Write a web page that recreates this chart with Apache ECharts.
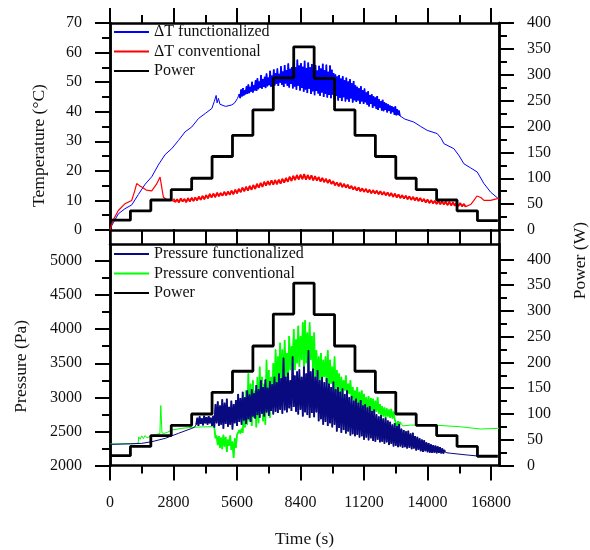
<!DOCTYPE html>
<html><head><meta charset="utf-8">
<script src="https://cdn.jsdelivr.net/npm/echarts@6/dist/echarts.min.js"></script>
<style>html,body{margin:0;padding:0;background:#fff}#c{width:590px;height:550px}</style>
</head><body><div id="c"></div>
<script>
// ---------- axis ticks ----------
const X_MIN = 0, X_MAX = 17150;
const xMajor = [0, 2800, 5600, 8400, 11200, 14000, 16800];
const xMinor = [1400, 4200, 7000, 9800, 12600, 15400];
const tempRange = [0, 70];
const tempMajor = [0, 10, 20, 30, 40, 50, 60, 70];
const tempMinor = [5, 15, 25, 35, 45, 55, 65];
const powerTopRange = [0, 400];
const powerBotRange = [0, 430];
const powerMajor = [0, 50, 100, 150, 200, 250, 300, 350, 400];
const powerMinor = [25, 75, 125, 175, 225, 275, 325, 375];
const pressRange = [2000, 5250];
const pressMajor = [2000, 2500, 3000, 3500, 4000, 4500, 5000];
const pressMinor = [2250, 2750, 3250, 3750, 4250, 4750];

// ---------- power (W): level held from each time to the next ----------
const powerTimes  = [0, 900, 1800, 2700, 3600, 4500, 5400, 6300, 7200, 8100, 9000, 9900, 10800, 11700, 12600, 13500, 14400, 15300, 16200, 17100];
const powerLevels = [19, 37, 58, 78, 100, 142, 183, 232, 294, 354, 293, 232, 183, 142, 100, 78, 58, 37, 18, 18];

// ---------- ΔT functionalized (°C) ----------
const dtFuncA = [[0,0.5],[150,2.5],[370,5.5],[660,7.2],[960,8.5],[1250,12],[1550,15.5],[1840,18],[2130,22],[2430,25.5],[2720,27.5],[3020,30.3],[3310,33.2],[3600,34.8],[3900,37.7],[4200,39.4],[4490,41.1],[4600,43.5],[4680,45.5],[4720,43],[4780,44.5],[4850,42.5],[4930,42.2],[5100,41.8],[5370,42.3],[5500,43],[5620,44.5]];
const dtFuncNoiseStart = 5700, dtFuncNoiseStep = 40;
const dtFuncNoise = [
46.0,44.6,47.5,45.2,48.0,45.5,47.2,45.9,48.6,46.1,
49.2,46.3,48.4,46.8,50.1,46.5,49.0,47.2,50.6,47.0,
51.3,47.6,50.2,48.1,52.4,47.8,51.0,48.4,51.8,48.0,
52.9,48.6,51.5,49.0,53.8,48.5,52.2,49.3,54.3,48.9,
53.0,49.5,54.6,48.7,52.8,49.8,55.4,49.1,53.6,48.4,
55.8,49.6,54.0,48.8,56.3,48.2,54.5,49.4,55.1,47.9,
56.9,48.5,55.0,47.4,57.6,48.8,55.6,47.2,56.4,48.0,
55.2,46.8,57.2,47.5,54.8,46.3,56.6,47.8,55.0,46.0,
56.1,46.9,54.2,45.6,55.8,47.0,53.9,46.2,55.5,45.4,
54.6,46.5,56.2,45.0,54.0,46.1,55.9,44.8,53.5,45.7,
55.6,44.6,54.2,45.8,53.0,44.2,52.6,45.3,51.9,43.8,
52.4,44.7,51.2,43.6,52.0,44.9,50.6,43.5,51.5,44.2,
50.2,43.4,51.0,44.5,49.6,43.1,50.4,43.9,48.9,43.3,
48.4,43.8,47.9,42.7,48.6,43.5,47.2,42.6,47.8,43.2,
46.5,42.4,46.9,41.8,45.6,42.6,45.9,41.3,45.2,41.9,
44.8,41.0,45.3,40.6,44.2,41.4,43.6,40.4,44.0,40.2,
43.2,40.6,42.8,39.8,42.5,40.3,42.1,39.4,41.9,39.9,
41.5,39.0,41.8,38.8,40.9,38.9,40.4,38.6];
const dtFuncB = [[12800,38],[13000,37.5],[13395,36.5],[13700,35],[13984,33.7],[14426,32.6],[14600,31],[14720,29.2],[15161,27.5],[15400,25],[15602,22.4],[15900,21],[16191,19.6],[16486,15.7],[16781,12.8],[17076,10.9],[17150,10.5]];

// ---------- ΔT conventional (°C) ----------
const dtConvA = [[0,0],[150,3.5],[368,6.6],[662,8.9],[957,10],[1080,13],[1178,15.7],[1300,15],[1399,14.5],[1600,13.5],[1840,13.2],[2050,15.5],[2208,17.9],[2290,14],[2355,11.1],[2500,10.3],[2723,10]];
const dtConvNoiseStart = 2800, dtConvNoiseStep = 80;
const dtConvNoise = [
10.6,9.5,10.4,9.3,10.7,9.6,10.5,9.4,10.8,9.6,
10.9,9.8,11.0,10.0,11.3,10.2,11.5,10.4,11.8,10.7,
12.2,11.0,12.3,11.1,12.6,11.4,12.5,11.6,12.9,11.7,
13.0,11.9,13.3,12.1,13.6,12.4,13.9,12.8,14.3,13.1,
14.6,13.3,14.9,13.6,15.2,13.9,15.6,14.3,15.9,14.6,
16.3,15.0,16.5,15.2,16.8,15.3,16.9,15.5,17.0,15.7,
17.3,16.0,17.6,16.3,18.0,16.6,18.3,16.9,18.6,17.1,
18.7,17.2,18.9,17.0,18.6,17.1,18.5,16.8,18.2,16.7,
17.9,16.4,17.6,16.2,17.3,15.9,17.0,15.6,16.5,15.1,
16.1,14.8,15.9,14.5,15.6,14.3,15.3,14.0,14.9,13.7,
14.6,13.3,14.4,13.1,14.1,12.9,13.9,12.7,13.6,12.4,
13.5,12.3,13.3,12.1,13.1,11.9,12.9,11.7,12.7,11.5,
12.5,11.2,12.3,11.0,12.0,10.8,11.8,10.6,11.6,10.4,
11.4,10.2,11.2,10.0,11.0,9.8,10.8,9.6,10.5,9.3,
10.3,9.1,10.1,9.0,9.9,8.8,9.8,8.7,9.7,8.6,
9.6,8.4,9.5,8.3,9.4,8.2,9.3,8.1,9.1,8.0,
8.8,7.9];
const dtConvB = [[15750,8.3],[15900,8.6],[16044,10],[16180,11.5],[16265,12],[16350,11],[16486,10],[16780,10],[17076,10.6],[17150,10.8]];

// ---------- Pressure functionalized (Pa) ----------
const pFuncA = [[0,2310],[900,2318],[1400,2325],[1840,2349],[2430,2398],[3017,2472],[3607,2545],[3720,2560]];
const pFuncNoiseStart = 3800, pFuncNoiseStep = 50;
const pFuncNoise = [
2600,2700,2580,2720,2610,2690,2590,2730,2620,2710,
2600,2725,2620,2700,2580,2730,2560,2900,2620,2940,
2580,2880,2600,2970,2540,2920,2610,2980,2570,2860,
2600,2950,2530,2900,2620,2960,2580,3050,2640,2990,
2600,3080,2660,3000,2610,3100,2680,3040,2640,3120,
2720,3060,2690,3180,2740,3120,2700,3250,2760,3150,
2720,3260,2780,3140,2730,3240,2800,3190,2750,3300,
2790,3220,2770,3350,2820,3280,2760,3580,2810,3300,
2780,3360,2840,3250,2800,3600,2860,3320,2790,3380,
2750,3410,2820,3300,2720,3450,2780,3350,2740,3690,
2700,3380,2770,3420,2710,3300,2780,3400,2650,3250,
2680,3300,2600,3220,2640,3280,2580,3200,2620,3150,
2560,3230,2600,3120,2500,3150,2550,3080,2480,3130,
2520,3050,2470,3100,2500,3000,2440,3020,2460,2950,
2430,2980,2450,2920,2410,2960,2430,2880,2380,2900,
2410,2850,2370,2870,2400,2800,2360,2820,2350,2750,
2380,2720,2340,2740,2350,2690,2320,2700,2340,2660,
2300,2640,2320,2600,2280,2620,2290,2580,2270,2610,
2280,2540,2260,2520,2270,2500,2250,2510,2260,2470,
2240,2480,2250,2430,2220,2420,2230,2400,2210,2380,
2200,2370,2210,2340,2195,2330,2190,2310,2185,2300,
2190,2290,2180,2280,2185,2270,2178,2250,2175,2230];
const pFuncB = [[14800,2190],[15000,2180],[15750,2154],[16190,2140],[16630,2130]];

// ---------- Pressure conventional (Pa) ----------
const pConvA = [[0,2315],[600,2318],[1150,2322],[1240,2330],[1270,2420],[1330,2385],[1400,2435],[1470,2395],[1550,2440],[1630,2405],[1700,2425],[1840,2440],[2050,2455],[2200,2470],[2240,2880],[2290,2480],[2380,2470],[2550,2490],[2723,2520],[3165,2545],[3607,2560],[4196,2568],[4500,2570]];
const pConvNoiseStart = 4600, pConvNoiseStep = 50;
const pConvNoise = [
2560,2400,2440,2300,2430,2260,2410,2240,2450,2280,
2420,2200,2380,2290,2440,2230,2350,2110,2400,2260,
2450,2430,2520,2470,2540,2480,2760,2560,3100,2600,
3350,2650,3200,2580,3250,2700,3100,2560,3300,2620,
3450,2800,3300,2650,3200,2600,3550,2900,3400,2700,
3300,2950,3500,3000,3700,3150,3600,3200,3800,3250,
3700,3150,3840,3300,3650,3250,3900,3400,3750,3450,
4000,3400,3850,3500,4050,3450,3900,3550,4100,3400,
4130,3500,3950,3450,4100,3550,3900,3400,3950,3300,
3690,3300,3600,3250,3650,3200,3550,3300,3600,3200,
3690,3150,3550,3200,3450,3100,3600,3060,3400,3150,
3350,3050,3300,3020,3250,3100,3320,3000,3200,3050,
3250,2980,3150,2950,3100,2880,3150,2900,3080,2860,
3100,2870,3050,2840,3000,2800,3020,2780,2990,2800,
2980,2770,2950,2790,3000,2760,2900,2740,2870,2720,
2850,2700,2840,2720,2820,2700,2830,2690,2790,2680,
2660,2570,2650,2590,2640];
const pConvB = [[12900,2580],[13250,2593],[14280,2593],[15460,2568],[16340,2535],[17100,2545],[17150,2545]];

// ---------- build ----------
function noisePart(start, step, vals) {
  return vals.map((v, i) => [start + i * step, v]);
}
function joinSeries(a, start, step, vals, b) {
  return a.concat(noisePart(start, step, vals), b);
}
const powerData = powerTimes.map((t, i) => [t, powerLevels[i]]);

const FONT = 'Liberation Serif';
const AXC = '#000';
const numFmt = v => String(v);

function xAx(grid, pos, ticks, major, withLabels) {
  return {
    type: 'value', gridIndex: grid, position: pos, min: X_MIN, max: X_MAX,
    axisLine: { show: major, onZero: false, lineStyle: { color: AXC, width: 2.5 } },
    axisTick: { show: true, customValues: ticks, length: major ? 15 : 8, lineStyle: { color: AXC, width: 2 } },
    axisLabel: withLabels ? { show: true, customValues: ticks, formatter: numFmt, margin: 29, fontFamily: FONT, fontSize: 16, color: '#111' } : { show: false },
    splitLine: { show: false }
  };
}
function yAx(grid, pos, range, ticks, major, withLabels) {
  return {
    type: 'value', gridIndex: grid, position: pos, min: range[0], max: range[1],
    axisLine: { show: major, onZero: false, lineStyle: { color: AXC, width: 2.5 } },
    axisTick: { show: true, customValues: ticks, length: major ? 15 : 8, lineStyle: { color: AXC, width: 2 } },
    axisLabel: withLabels ? { show: true, customValues: ticks, formatter: numFmt, margin: 28, fontFamily: FONT, fontSize: 16, color: '#111' } : { show: false },
    splitLine: { show: false }
  };
}

const xAxes = [
  xAx(0, 'bottom', xMajor, true, false),
  xAx(0, 'bottom', xMinor, false, false),
  xAx(0, 'top', xMajor, true, false),
  xAx(0, 'top', xMinor, false, false),
  Object.assign(xAx(1, 'bottom', xMajor, true, true), {
    name: 'Time (s)', nameLocation: 'middle', nameGap: 65,
    nameTextStyle: { fontFamily: FONT, fontSize: 17.5, color: '#111' }
  }),
  xAx(1, 'bottom', xMinor, false, false),
  xAx(1, 'top', xMajor, true, false),
  xAx(1, 'top', xMinor, false, false),
  { type: 'value', gridIndex: 2, min: X_MIN, max: X_MAX, show: false }
];
const yAxes = [
  Object.assign(yAx(0, 'left', tempRange, tempMajor, true, true), {
    name: 'Temperature (°C)', nameLocation: 'middle', nameGap: 62, nameRotate: 90,
    nameTextStyle: { fontFamily: FONT, fontSize: 17.5, color: '#111', padding: [0, 38, 0, 0] }
  }),
  yAx(0, 'left', tempRange, tempMinor, false, false),
  yAx(0, 'right', powerTopRange, powerMajor, true, true),
  yAx(0, 'right', powerTopRange, powerMinor, false, false),
  Object.assign(yAx(1, 'left', pressRange, pressMajor, true, true), {
    name: 'Pressure (Pa)', nameLocation: 'middle', nameGap: 80, nameRotate: 90,
    nameTextStyle: { fontFamily: FONT, fontSize: 17.5, color: '#111', padding: [0, 23, 0, 0] }
  }),
  yAx(1, 'left', pressRange, pressMinor, false, false),
  yAx(1, 'right', powerBotRange, powerMajor, true, true),
  yAx(1, 'right', powerBotRange, powerMinor, false, false),
  { type: 'value', gridIndex: 2, position: 'left', min: 0, max: 1, axisLine: { show: true, lineStyle: { color: AXC, width: 2.5 } }, axisTick: { show: false }, axisLabel: { show: false }, splitLine: { show: false } },
  { type: 'value', gridIndex: 2, position: 'right', min: 0, max: 1, axisLine: { show: true, lineStyle: { color: AXC, width: 2.5 } }, axisTick: { show: false }, axisLabel: { show: false }, splitLine: { show: false } }
];

function lineSeries(name, data, xi, yi, color, width, extra) {
  return Object.assign({
    type: 'line', name: name, data: data, xAxisIndex: xi, yAxisIndex: yi,
    symbol: 'none', showSymbol: false, sampling: null, animation: false,
    lineStyle: { color: color, width: width }, itemStyle: { color: color }
  }, extra || {});
}

const legendBase = {
  orient: 'vertical', left: 113, itemWidth: 35, itemHeight: 14, itemGap: 3.5, padding: 0,
  selectedMode: false,
  itemStyle: { opacity: 0, color: 'rgba(0,0,0,0)', borderWidth: 0 },
  textStyle: { fontFamily: FONT, fontSize: 16, color: '#111', lineHeight: 16 }
};

const option = {
  animation: false,
  backgroundColor: '#fff',
  grid: [
    { left: 110, top: 23, width: 389, height: 207 },
    { left: 110, top: 244, width: 389, height: 221.5 },
    { left: 110, top: 23, width: 389, height: 442.5 }
  ],
  legend: [
    Object.assign({}, legendBase, { top: 24, data: ['ΔT functionalized', 'ΔT conventional', 'Power'] }),
    Object.assign({}, legendBase, { top: 246, data: ['Pressure functionalized', 'Pressure conventional', 'Power'] })
  ],
  xAxis: xAxes,
  yAxis: yAxes,
  series: [
    lineSeries('ΔT functionalized', joinSeries(dtFuncA, dtFuncNoiseStart, dtFuncNoiseStep, dtFuncNoise, dtFuncB), 0, 0, '#0000ff', 1),
    lineSeries('ΔT functionalized', noisePart(dtFuncNoiseStart, dtFuncNoiseStep, dtFuncNoise), 0, 0, '#0000ff', 1.7),
    lineSeries('ΔT conventional', joinSeries(dtConvA, dtConvNoiseStart, dtConvNoiseStep, dtConvNoise, dtConvB), 0, 0, '#ff0000', 1.2),
    lineSeries('ΔT conventional', noisePart(dtConvNoiseStart, dtConvNoiseStep, dtConvNoise), 0, 0, '#ff0000', 1.8),
    lineSeries('Power', powerData, 0, 2, '#000000', 2.8, { step: 'end' }),
    lineSeries('Pressure conventional', joinSeries(pConvA, pConvNoiseStart, pConvNoiseStep, pConvNoise, pConvB), 4, 4, '#00ff00', 1),
    lineSeries('Pressure conventional', noisePart(pConvNoiseStart, pConvNoiseStep, pConvNoise), 4, 4, '#00ff00', 1.7),
    lineSeries('Pressure functionalized', joinSeries(pFuncA, pFuncNoiseStart, pFuncNoiseStep, pFuncNoise, pFuncB), 4, 4, '#0a0a80', 1),
    lineSeries('Pressure functionalized', noisePart(pFuncNoiseStart, pFuncNoiseStep, pFuncNoise), 4, 4, '#0a0a80', 1.8),
    lineSeries('Power', powerData, 4, 6, '#000000', 2.8, { step: 'end' })
  ],
  graphic: [
    { type: 'text', left: 571, top: 222, rotation: Math.PI / 2,
      style: { text: 'Power (W)', font: '17.5px "Liberation Serif"', fill: '#111' } }
  ]
};

const chart = echarts.init(document.getElementById('c'), null, { renderer: 'canvas' });
chart.setOption(option);
</script>
</body></html>
